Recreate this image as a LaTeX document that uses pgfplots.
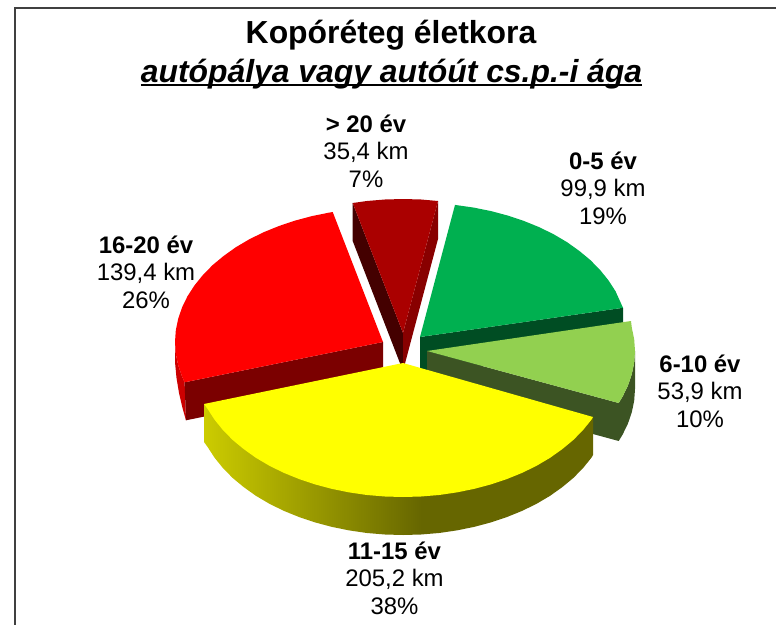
\documentclass[border=0pt]{standalone}
\usepackage{fontspec}
\setmainfont{Liberation Sans}
\usepackage{pgfplots}
\pgfplotsset{compat=1.18}
\definecolor{cDR}{HTML}{AA0000}
\definecolor{cDRl}{HTML}{440000}
\definecolor{cDRr}{HTML}{880000}
\definecolor{cR}{HTML}{FF0000}
\definecolor{cRs}{HTML}{7B0000}
\definecolor{cRr}{HTML}{CC0000}
\definecolor{cG}{HTML}{00B050}
\definecolor{cGs}{HTML}{004D23}
\definecolor{cL}{HTML}{92D050}
\definecolor{cLs}{HTML}{3C5423}
\definecolor{cY}{HTML}{FFFF00}
\definecolor{yA}{HTML}{CCCC00}
\definecolor{yB}{HTML}{666600}
\pgfdeclarehorizontalshading{yrim}{100bp}{color(0bp)=(yA);color(25bp)=(yA);color(53bp)=(yB);color(100bp)=(yB)}
\newcommand{\lab}[5]{%
  \node[anchor=base,font=\fontsize{24}{28}\selectfont\bfseries] at (axis cs:#1,#2) {#3};
  \node[anchor=base,font=\fontsize{24}{28}\selectfont] at (axis cs:#1,#2+27.5) {#4};
  \node[anchor=base,font=\fontsize{24}{28}\selectfont] at (axis cs:#1,#2+55) {#5};
}
\begin{document}
\begin{tikzpicture}
\begin{axis}[
  scale only axis, width=776bp, height=625bp,
  xmin=0, xmax=776, ymin=0, ymax=625, y dir=reverse,
  axis lines=none, clip=true, no markers,
  every axis plot/.append style={line width=0pt, forget plot},
]
\path[draw=white,line width=0pt] (axis cs:0,0) rectangle (axis cs:776,625);
% frame
\addplot[draw=black!75, line width=1.5pt] coordinates {(15,625) (15,8) (776,8)};
% > 20 ev (35.4 km)
\addplot[fill=cDRl, draw=none] coordinates {(352.7,203) (403,333) (403,371) (352.7,241)};
\addplot[fill=cDRr, draw=none] coordinates {(438,201) (403,333) (403,371) (438,239)};
\addplot[fill=cDR, draw=none] coordinates {(403,333) (352.7,203) (366.9,201) (384.9,199.5) (403,199) (421.1,199.5) (438,201)};
% 16-20 ev (139.4 km)
\addplot[fill=cRr, draw=none] coordinates {(184.6,382.3) (182.1,376.7) (178.2,365.3) (175.8,353.7) (175,342) (175,362) (176.5,378) (179,393) (182.5,408) (186,420.3)};
\addplot[fill=cRs, draw=none] coordinates {(184.6,382.3) (383,342) (383,380) (186,420.3)};
\addplot[fill=cR, draw=none] coordinates {(383,342) (184.6,382.3) (182.1,376.7) (178.2,365.3) (175.8,353.7) (175,342) (175.8,330.3) (178.2,318.7) (182.1,307.3) (187.5,296.2) (194.5,285.4) (202.9,275) (212.6,265.1) (223.7,255.9) (235.9,247.2) (249.3,239.3) (263.7,232.2) (279,226) (295.1,220.6) (311.9,216.1) (329.2,212.6) (332.7,212)};
% 0-5 ev (99.9 km)
\addplot[fill=cGs, draw=none] coordinates {(420,337) (623,307.8) (623,345.8) (420,375)};
\addplot[fill=cG, draw=none] coordinates {(420,337) (455,204.9) (473.8,207.6) (491.1,211.1) (507.9,215.6) (524,221) (539.3,227.2) (553.7,234.3) (567.1,242.2) (579.3,250.9) (590.4,260.1) (600.1,270) (608.5,280.4) (615.5,291.2) (623,307.8)};
% 6-10 ev (53.9 km)
\addplot[fill=cLs, draw=none] coordinates {(427,351) (618.7,403) (622.5,396.8) (627.9,385.7) (631.8,374.3) (634.2,362.7) (635,351) (635,389) (634.2,400.7) (631.8,412.3) (627.9,423.7) (622.5,434.8) (618.7,441) (427,389)};
\addplot[fill=cL, draw=none] coordinates {(427,351) (631,321) (631.8,327.7) (634.2,339.3) (635,351) (634.2,362.7) (631.8,374.3) (627.9,385.7) (622.5,396.8) (618.7,403)};
% 11-15 ev (205.2 km)
\addplot[shade, shading=yrim, draw=none] coordinates {(204,404) (593,417) (593,455) (591.5,457.6) (583.1,468) (573.4,477.9) (562.3,487.1) (550.1,495.8) (536.7,503.7) (522.3,510.8) (507,517) (490.9,522.4) (474.1,526.9) (456.8,530.4) (439.1,533) (421.1,534.5) (403,535) (384.9,534.5) (366.9,533) (349.2,530.4) (331.9,526.9) (315.1,522.4) (299,517) (283.7,510.8) (269.3,503.7) (255.9,495.8) (243.7,487.1) (232.6,477.9) (222.9,468) (214.5,457.6) (207.5,446.8) (204,442)};
\addplot[fill=cY, draw=none] coordinates {(403,363) (593,417) (591.5,419.6) (583.1,430) (573.4,439.9) (562.3,449.1) (550.1,457.8) (536.7,465.7) (522.3,472.8) (507,479) (490.9,484.4) (474.1,488.9) (456.8,492.4) (439.1,495) (421.1,496.5) (403,497) (384.9,496.5) (366.9,495) (349.2,492.4) (331.9,488.9) (315.1,484.4) (299,479) (283.7,472.8) (269.3,465.7) (255.9,457.8) (243.7,449.1) (232.6,439.9) (222.9,430) (214.5,419.6) (207.5,408.8) (204,404)};
% title
\node[anchor=base,font=\fontsize{32}{36}\selectfont\bfseries] at (axis cs:391,44) {Kopóréteg életkora};
\node[anchor=base,font=\fontsize{32}{36}\selectfont\bfseries\itshape] at (axis cs:391.5,83) {\setbox0=\hbox{autópálya vagy autóút cs.p.-i ága}\rlap{\rule[-3pt]{\wd0}{2pt}}\box0};
% labels
\lab{366}{132}{> 20 év}{35,4 km}{7\%}
\lab{603}{169}{0-5 év}{99,9 km}{19\%}
\lab{700}{372}{6-10 év}{53,9 km}{10\%}
\lab{394.5}{559}{11-15 év}{205,2 km}{38\%}
\lab{146}{253}{16-20 év}{139,4 km}{26\%}
\end{axis}
\end{tikzpicture}
\end{document}
